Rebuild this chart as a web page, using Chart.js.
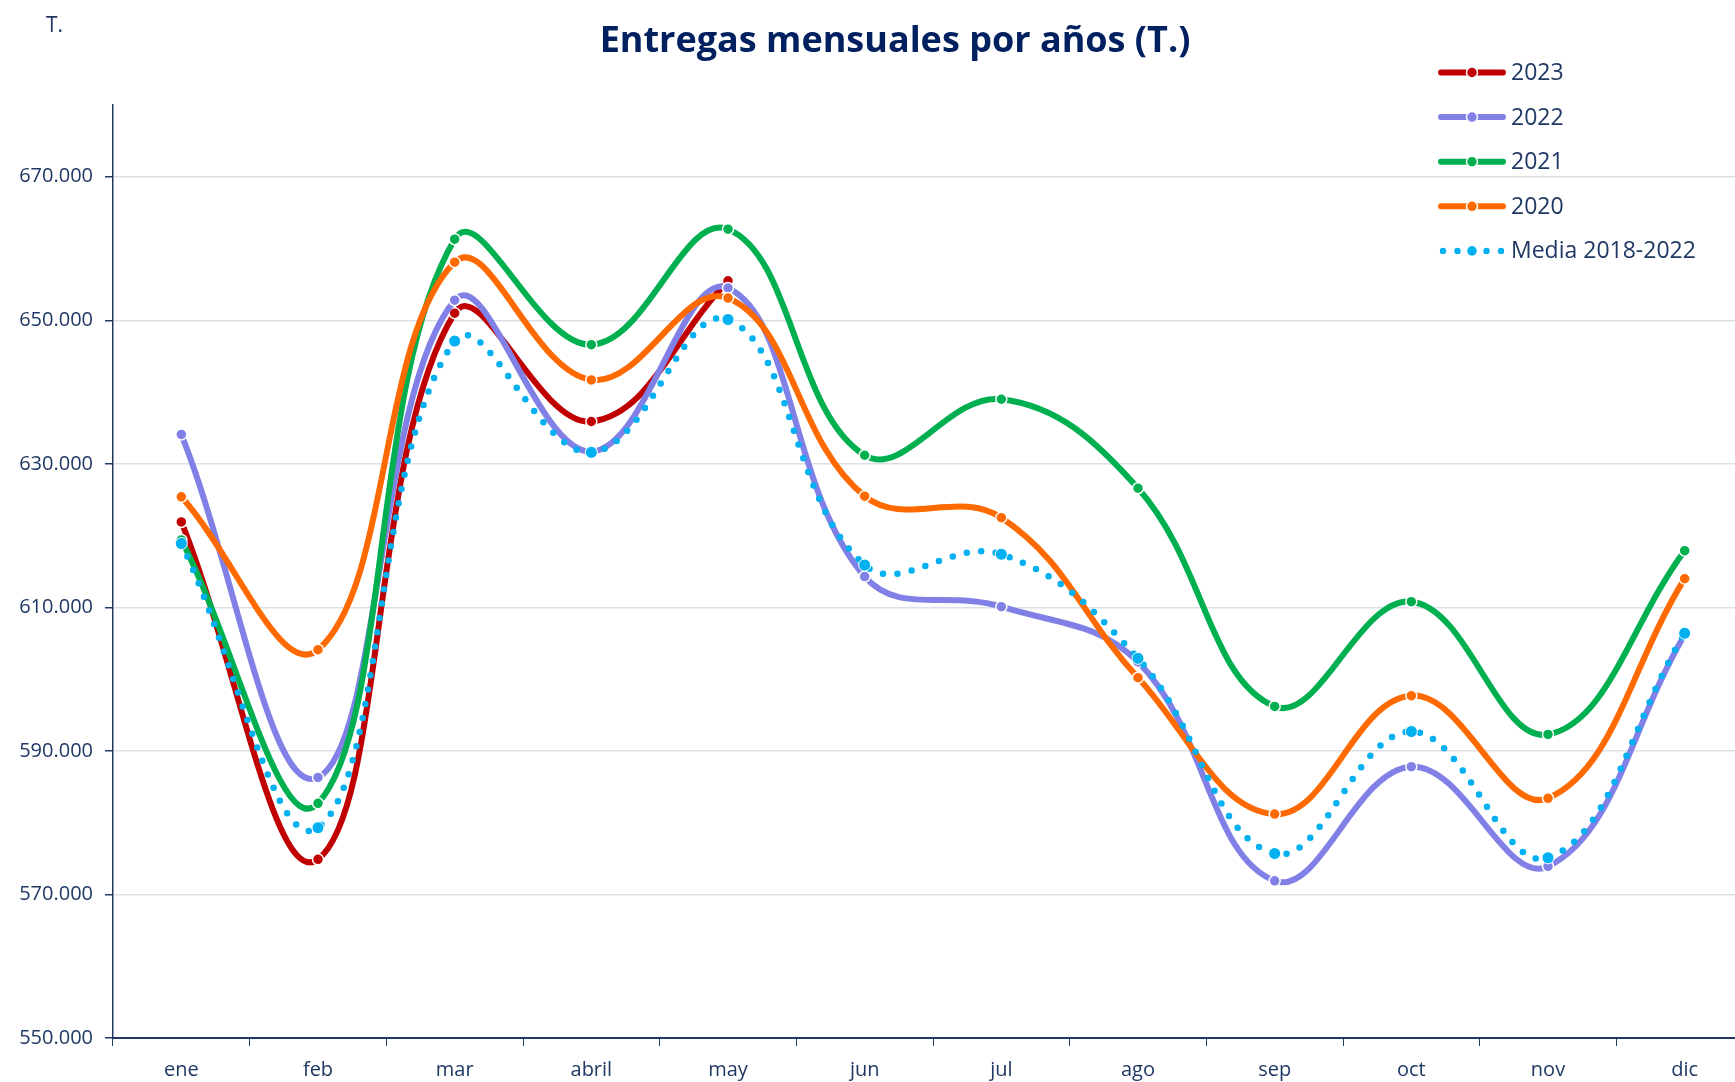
<!DOCTYPE html>
<html>
<head>
<meta charset="utf-8">
<title>Entregas mensuales por años</title>
<script src="https://cdn.jsdelivr.net/npm/chart.js@4.4.0/dist/chart.umd.min.js"></script>
<style>
  html, body { margin: 0; padding: 0; overflow: hidden; background: #fff; }
  #wrap { position: relative; width: 1760px; height: 1082px; }
</style>
</head>
<body>
<div id="wrap"><canvas id="chart"></canvas></div>
<script>
// Datos (toneladas)
const months = ['ene', 'feb', 'mar', 'abril', 'may', 'jun', 'jul', 'ago', 'sep', 'oct', 'nov', 'dic'];
const serie2023 = [621900, 574900, 651000, 635900, 655500];
const serie2022 = [634100, 586300, 652800, 631700, 654500, 614300, 610100, 602400, 571900, 587800, 573900, 606200];
const serie2021 = [619400, 582700, 661300, 646600, 662700, 631200, 639000, 626600, 596200, 610800, 592300, 617900];
const serie2020 = [625400, 604100, 658100, 641700, 653100, 625500, 622500, 600200, 581200, 597700, 583400, 614000];
const serieMedia = [618900, 579300, 647100, 631600, 650100, 615900, 617400, 602900, 575700, 592700, 575100, 606400];
const yTicks = [550000, 570000, 590000, 610000, 630000, 650000, 670000];

const NAVY = '#1F3864';
const FONT = "'Open Sans', 'Noto Sans', sans-serif";

function fmtMiles(v) {
  return String(Math.round(v)).replace(/\B(?=(\d{3})+(?!\d))/g, '.');
}

function lineDataset(label, values, color, order) {
  return {
    label: label,
    data: values,
    borderColor: color,
    backgroundColor: color,
    borderWidth: 6,
    tension: 0.4,
    pointRadius: 5.5,
    pointBorderColor: '#fff',
    pointBorderWidth: 1.5,
    pointBackgroundColor: color,
    order: order,
  };
}

const mediaDataset = {
  label: 'Media 2018-2022',
  data: serieMedia,
  borderColor: '#00B0F0',
  backgroundColor: '#00B0F0',
  borderWidth: 6.5,
  borderDash: [0, 14.5],
  borderCapStyle: 'round',
  tension: 0.4,
  pointRadius: 6,
  pointBorderColor: '#fff',
  pointBorderWidth: 1,
  pointBackgroundColor: '#00B0F0',
  order: 0,
  isDotted: true,
};

// titulo, unidad y leyenda
const decoPlugin = {
  id: 'deco',
  afterDraw(chart) {
    const ctx = chart.ctx;
    ctx.save();
    ctx.fillStyle = '#002060';
    ctx.font = "bold 36px " + FONT;
    ctx.textAlign = 'center';
    ctx.textBaseline = 'middle';
    ctx.fillText('Entregas mensuales por años (T.)', 895, 42);

    ctx.fillStyle = NAVY;
    ctx.font = "21px " + FONT;
    ctx.textAlign = 'left';
    ctx.fillText('T.', 46, 26);

    const x0 = 1441, x1 = 1503, xm = (x0 + x1) / 2;
    chart.data.datasets.forEach((ds, i) => {
      const y = 72.5 + i * 44.6;
      ctx.strokeStyle = ds.borderColor;
      ctx.fillStyle = ds.borderColor;
      if (ds.isDotted) {
        [-29, -14.5, 14.5, 29].forEach(dx => {
          ctx.beginPath();
          ctx.arc(xm + dx, y, 3.2, 0, Math.PI * 2);
          ctx.fill();
        });
        ctx.beginPath();
        ctx.arc(xm, y, 4.8, 0, Math.PI * 2);
        ctx.fill();
      } else {
        ctx.lineWidth = 6;
        ctx.lineCap = 'round';
        ctx.beginPath();
        ctx.moveTo(x0, y);
        ctx.lineTo(x1, y);
        ctx.stroke();
        ctx.beginPath();
        ctx.arc(xm, y, 5.5, 0, Math.PI * 2);
        ctx.fill();
        ctx.lineWidth = 1.5;
        ctx.strokeStyle = '#fff';
        ctx.stroke();
      }
      ctx.fillStyle = NAVY;
      ctx.font = "23px " + FONT;
      ctx.textAlign = 'left';
      ctx.textBaseline = 'middle';
      ctx.fillText(ds.label, 1511, y + 1);
    });
    ctx.restore();
  },
};

new Chart(document.getElementById('chart'), {
  type: 'line',
  data: {
    labels: months,
    datasets: [
      lineDataset('2023', serie2023, '#C00000', 4),
      lineDataset('2022', serie2022, '#8080E6', 3),
      lineDataset('2021', serie2021, '#00B050', 2),
      lineDataset('2020', serie2020, '#FF6A00', 1),
      mediaDataset,
    ],
  },
  options: {
    responsive: true,
    maintainAspectRatio: false,
    animation: false,
    layout: { padding: { top: 105, right: 5, left: 0, bottom: 0 } },
    plugins: {
      legend: { display: false },
      title: { display: false },
      tooltip: { enabled: false },
    },
    scales: {
      x: {
        offset: true,
        grid: {
          offset: true,
          drawOnChartArea: false,
          tickLength: 8,
          tickColor: NAVY,
        },
        border: { color: NAVY, width: 2 },
        ticks: {
          color: NAVY,
          font: { family: FONT, size: 20 },
          padding: 12,
          maxRotation: 0,
        },
        afterFit(scale) { scale.height = 44; },
      },
      y: {
        min: 550000,
        max: 680000,
        grid: {
          color: '#DCDFE8',
          lineWidth: 1.5,
          tickLength: 8,
          tickColor: NAVY,
        },
        border: { color: NAVY, width: 1.5 },
        ticks: {
          color: NAVY,
          font: { family: FONT, size: 20 },
          padding: 12,
          callback: (v) => fmtMiles(v),
        },
        afterBuildTicks(scale) {
          scale.ticks = yTicks.map(v => ({ value: v }));
        },
        afterFit(scale) { scale.width = 113; },
      },
    },
  },
  plugins: [decoPlugin],
});
</script>
</body>
</html>
